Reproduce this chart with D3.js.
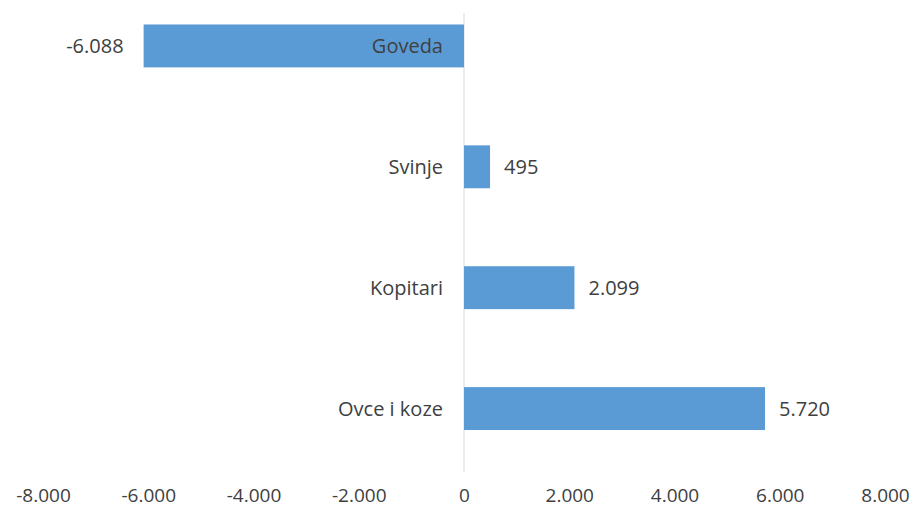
<!DOCTYPE html>
<html><head><meta charset="utf-8">
<script src="https://cdn.jsdelivr.net/npm/d3@7"></script>
<style>body{margin:0;background:#fff}text{font-family:"Open Sans",sans-serif}</style>
</head><body>
<svg id="c" width="917" height="508"></svg>
<script>
const categories = ["Goveda","Svinje","Kopitari","Ovce i koze"];
const values = [-6088, 495, 2099, 5720];
const tickValues = [-8000,-6000,-4000,-2000,0,2000,4000,6000,8000];

const fmt = v => {
  const a = Math.abs(v);
  const s = a >= 1000 ? Math.floor(a/1000) + "." + String(a % 1000).padStart(3, "0") : String(a);
  return (v < 0 ? "-" : "") + s;
};
const svg = d3.select("#c");
const x = d3.scaleLinear().domain([-8000, 8000]).range([43, 885]);
const y = d3.scaleBand().domain(categories).range([-14.5, 469]).paddingInner(0.645).paddingOuter(0.3225);
const FS = 20;

svg.append("line").attr("x1", x(0)).attr("x2", x(0)).attr("y1", 13).attr("y2", 472)
  .attr("stroke", "#d9d9d9").attr("stroke-width", 1);

svg.selectAll("rect.bar").data(values).join("rect").attr("class","bar")
  .attr("x", d => x(Math.min(0, d))).attr("width", d => Math.abs(x(d) - x(0)))
  .attr("y", (d,i) => y(categories[i])).attr("height", y.bandwidth())
  .attr("fill", "#5b9bd5");

svg.selectAll("text.cat").data(categories).join("text").attr("class","cat")
  .attr("x", x(0) - 21).attr("y", d => y(d) + y.bandwidth()/2)
  .attr("dy", "0.35em").attr("text-anchor", "end")
  .attr("font-size", FS).attr("fill", "#404040").text(d => d);

svg.selectAll("text.val").data(values).join("text").attr("class","val")
  .attr("x", d => d < 0 ? x(d) - 20 : x(d) + 14)
  .attr("y", (d,i) => y(categories[i]) + y.bandwidth()/2)
  .attr("dy", "0.35em").attr("text-anchor", d => d < 0 ? "end" : "start")
  .attr("font-size", FS).attr("fill", "#404040").text(d => fmt(d));

const ax = svg.append("g").attr("transform", "translate(0,495)")
  .call(d3.axisBottom(x).tickValues(tickValues).tickSize(0).tickPadding(0).tickFormat(fmt));
ax.select(".domain").remove();
ax.selectAll("text").attr("font-size", 19).attr("fill", "#404040").attr("dy", "0.35em")
  .style("font-family", "\"Open Sans\",sans-serif");
</script>
</body></html>
